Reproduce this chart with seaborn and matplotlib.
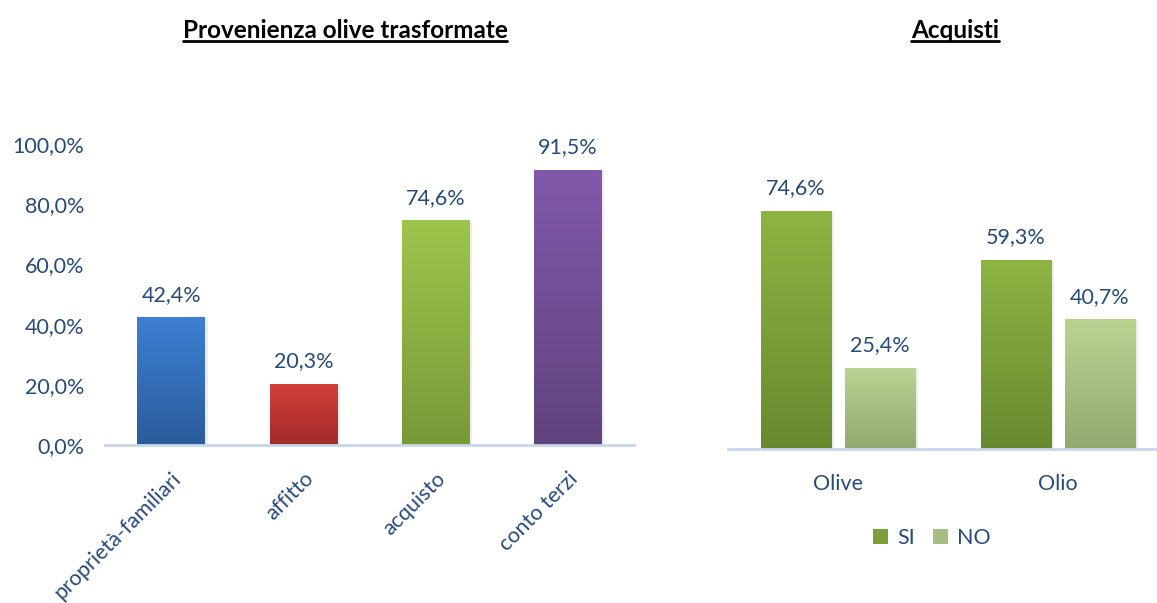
import numpy as np
import pandas as pd
import matplotlib
matplotlib.use("Agg")
import matplotlib.pyplot as plt
import matplotlib.colors as mcolors
from matplotlib.lines import Line2D
import seaborn as sns

# ---- data -------------------------------------------------------------
origin_categories = ["proprietà-familiari", "affitto", "acquisto", "conto terzi"]
origin_values = [42.4, 20.3, 74.6, 91.5]

purchase_items = ["Olive", "Olio"]
purchase_si = [74.6, 59.3]
purchase_no = [25.4, 40.7]

y_ticks = [0, 20, 40, 60, 80, 100]
y_tick_labels = ["0,0%", "20,0%", "40,0%", "60,0%", "80,0%", "100,0%"]

# gradient colours (top, bottom) per bar colour
origin_grad = [("#3D7FD2", "#2B5C9B"), ("#D43F3B", "#A12B28"),
               ("#9DC54B", "#779A39"), ("#8158AA", "#5F447E")]
si_grad = ("#8DB443", "#69892F")
no_grad = ("#B9D491", "#93A871")

TEXT = "#274A7C"
AXIS = "#C8D7EC"
FS = 15.5

sns.set_theme(style="white")
plt.rcParams["font.family"] = ["Lato", "DejaVu Sans"]

W, H = 1157, 603
fig = plt.figure(figsize=(W / 100, H / 100), dpi=100)


def px_axes(x0, y_top, x1, y_bot):
    return fig.add_axes([x0 / W, 1 - y_bot / H, (x1 - x0) / W, (y_bot - y_top) / H])


def fmt(v):
    return f"{v:.1f}".replace(".", ",") + "%"


def blend(a, b):
    return tuple((np.array(mcolors.to_rgb(a)) + np.array(mcolors.to_rgb(b))) / 2)


def gradient_fill(ax, patch, top, bottom):
    x, y = patch.get_x(), patch.get_y()
    w, h = patch.get_width(), patch.get_height()
    c0 = np.array(mcolors.to_rgb(bottom))
    c1 = np.array(mcolors.to_rgb(top))
    t = np.linspace(0, 1, 128)[:, None]
    img = (c0 * (1 - t) + c1 * t)[:, None, :]
    # soft shadow to the right/bottom
    ax.add_patch(plt.Rectangle((x + w * 0.02, y - 0.4), w * 1.02, h, facecolor="#000000",
                               alpha=0.07, edgecolor="none", zorder=1.5))
    im = ax.imshow(img, extent=[x, x + w, y, y + h], origin="lower",
                   aspect="auto", zorder=2.5, interpolation="bilinear")
    im.set_clip_path(patch)
    patch.set_facecolor(bottom)
    patch.set_edgecolor("none")


def style_axes(ax):
    for s in ["left", "right", "top"]:
        ax.spines[s].set_visible(False)
    ax.spines["bottom"].set_color(AXIS)
    ax.spines["bottom"].set_linewidth(2)
    ax.spines["bottom"].set_zorder(3)
    ax.tick_params(axis="both", length=0, colors=TEXT, labelsize=FS)
    ax.set_xlabel("")
    ax.set_ylabel("")


# ---- left: origin of processed olives --------------------------------
ax1 = px_axes(105, 144, 634, 445)
df1 = pd.DataFrame({"cat": origin_categories, "val": origin_values})
sns.barplot(data=df1, x="cat", y="val", hue="cat", palette=[g[1] for g in origin_grad],
            width=0.51, legend=False, ax=ax1, saturation=1)
style_axes(ax1)
for patch, g in zip(ax1.patches, origin_grad):
    gradient_fill(ax1, patch, *g)
for cont in ax1.containers:
    ax1.bar_label(cont, labels=[fmt(v) for v in cont.datavalues], padding=9,
                  fontsize=FS, color=TEXT)
ax1.set_ylim(0, 100)
ax1.set_xlim(-0.5, 3.5)
ax1.set_yticks(y_ticks)
ax1.set_yticklabels(y_tick_labels)
ax1.tick_params(axis="y", pad=15)
ax1.set_xticks(range(len(origin_categories)))
ax1.set_xticklabels(origin_categories, rotation=45, ha="right", va="top",
                    rotation_mode="anchor", fontsize=15.5)
ax1.tick_params(axis="x", pad=17)

# ---- right: purchases -------------------------------------------------
ax2 = px_axes(728, 130, 1157, 449)
df2 = pd.DataFrame({
    "item": purchase_items * 2,
    "resp": ["SI"] * len(purchase_items) + ["NO"] * len(purchase_items),
    "val": purchase_si + purchase_no,
})
sns.barplot(data=df2, x="item", y="val", hue="resp", hue_order=["SI", "NO"],
            palette=[si_grad[1], no_grad[1]], width=0.764, gap=0.167,
            ax=ax2, saturation=1)
style_axes(ax2)
for cont, g in zip(ax2.containers, [si_grad, no_grad]):
    for patch in cont.patches:
        gradient_fill(ax2, patch, *g)
    ax2.bar_label(cont, labels=[fmt(v) for v in cont.datavalues], padding=9,
                  fontsize=FS, color=TEXT)
ax2.set_ylim(0, 100)
ax2.set_xlim(-0.5, 1.45)
ax2.set_yticks([])
ax2.tick_params(axis="x", pad=18)
sns.move_legend(ax2, "center", bbox_to_anchor=(932 / W, 1 - 538 / H),
                bbox_transform=fig.transFigure, ncol=2, frameon=False, title=None,
                fontsize=FS, handlelength=0.7, handleheight=0.7, handletextpad=0.45,
                columnspacing=0.8, labelcolor=TEXT)
for handle, g in zip(ax2.get_legend().legend_handles, [si_grad, no_grad]):
    handle.set_facecolor(blend(*g))
    handle.set_edgecolor("none")

# ---- titles (bold, underlined) ---------------------------------------
titles = [("Provenienza olive trasformate", 345), ("Acquisti", 955)]
fig.canvas.draw()
renderer = fig.canvas.get_renderer()
for text, xc in titles:
    t = fig.text(xc / W, 1 - 30 / H, text, ha="center", va="center",
                 fontsize=17.5, fontweight="bold", color="black")
    bb = t.get_window_extent(renderer=renderer)
    yline = bb.y0 + 1
    fig.add_artist(Line2D([bb.x0 / W, bb.x1 / W], [yline / H, yline / H],
                          color="black", linewidth=2, transform=fig.transFigure))

fig.savefig("out.png", dpi=100)
